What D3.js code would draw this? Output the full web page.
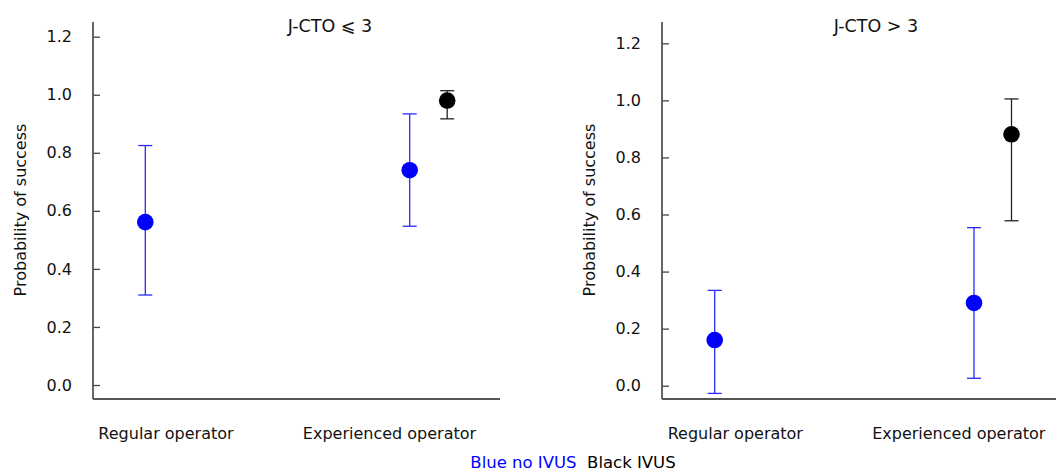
<!DOCTYPE html>
<html><head><meta charset="utf-8">
<script src="https://cdn.jsdelivr.net/npm/d3@7"></script>
<style>
body{margin:0;background:#fff;}
text{font-family:"DejaVu Sans",Verdana,sans-serif;fill:#111;}
</style></head>
<body><svg id="c" width="1056" height="473"></svg>
<script>
// ---- data ----
const categories = ["Regular operator", "Experienced operator"];
const panelTitles = ["J-CTO \u2A7D 3", "J-CTO > 3"];
const yTicks = [0.0, 0.2, 0.4, 0.6, 0.8, 1.0, 1.2];
const yLabel = "Probability of success";
// blue = no IVUS (both categories), per panel
const blueMean  = [[0.561, 0.740], [0.160, 0.290]];
const blueLow   = [[0.310, 0.547], [-0.027, 0.026]];
const blueHigh  = [[0.825, 0.934], [0.334, 0.554]];
// black = IVUS (experienced operator only), per panel
const blackMean = [0.980, 0.881];
const blackLow  = [0.917, 0.578];
const blackHigh = [1.014, 1.005];
const legendItems = ["Blue no IVUS", "Black IVUS"];
const legendColors = ["#0000ff", "#000000"];

// ---- layout ----
const svg = d3.select("#c");
const panels = [
  {axisX: 93,  xEnd: 500,  yRange: [385, 36.7], ptRange: [145.3, 409.7], lblRange: [166, 389.5], titleX: 330, yLabelX: 20},
  {axisX: 662, xEnd: 1056, yRange: [385.7, 43.3], ptRange: [714.7, 974], lblRange: [735.3, 958.8], titleX: 876, yLabelX: 589}
];
const axisY = 399, axisTop = 22, blackOffset = 37.5, capHalf = 7, radius = 8.3;
const fs = 16;

panels.forEach((p, i) => {
  const g = svg.append("g");
  const y = d3.scaleLinear().domain([0, 1.2]).range(p.yRange);
  const x = d3.scalePoint().domain(categories).range(p.ptRange);
  const xl = d3.scalePoint().domain(categories).range(p.lblRange);

  // y axis (inward ticks)
  const ax = g.append("g").attr("transform", `translate(${p.axisX},0)`)
    .call(d3.axisRight(y).tickValues(yTicks).tickSize(7).tickFormat(""));
  ax.select(".domain").remove();
  ax.selectAll(".tick line").attr("stroke", "#444").attr("stroke-width", 1.3);
  g.append("line").attr("x1", p.axisX).attr("x2", p.axisX).attr("y1", axisTop).attr("y2", axisY)
    .attr("stroke", "#555").attr("stroke-width", 1.8);
  g.append("line").attr("x1", p.axisX).attr("x2", p.xEnd).attr("y1", axisY).attr("y2", axisY)
    .attr("stroke", "#555").attr("stroke-width", 1.8);
  // tick labels
  g.selectAll(".tl").data(yTicks).join("text")
    .attr("x", p.axisX - 21).attr("y", d => y(d)).attr("dy", "0.35em")
    .attr("text-anchor", "end").attr("font-size", fs).text(d => d.toFixed(1));
  // y label
  g.append("text").attr("transform", `translate(${p.yLabelX},210) rotate(-90)`)
    .attr("text-anchor", "middle").attr("dy", "0.35em").attr("font-size", fs).text(yLabel);
  // title
  g.append("text").attr("x", p.titleX).attr("y", 26).attr("dy", "0.35em")
    .attr("text-anchor", "middle").attr("font-size", 17.5).text(panelTitles[i]);
  // category labels
  g.selectAll(".cl").data(categories).join("text")
    .attr("x", d => xl(d)).attr("y", 433).attr("dy", "0.35em")
    .attr("text-anchor", "middle").attr("font-size", fs).text(d => d);

  // points with error bars
  const blue = categories.map((c, j) => ({x: x(c), m: blueMean[i][j], lo: blueLow[i][j], hi: blueHigh[i][j], col: "#0000ff", lc: "#2a2aff"}));
  const black = [{x: x(categories[1]) + blackOffset, m: blackMean[i], lo: blackLow[i], hi: blackHigh[i], col: "#000", lc: "#222"}];
  [...blue, ...black].forEach(d => {
    g.append("line").attr("x1", d.x).attr("x2", d.x).attr("y1", y(d.lo)).attr("y2", y(d.hi))
      .attr("stroke", d.lc).attr("stroke-width", 1.3);
    [d.lo, d.hi].forEach(v => g.append("line").attr("x1", d.x - capHalf).attr("x2", d.x + capHalf)
      .attr("y1", y(v)).attr("y2", y(v)).attr("stroke", d.lc).attr("stroke-width", 1.3));
    g.append("circle").attr("cx", d.x).attr("cy", y(d.m)).attr("r", radius).attr("fill", d.col);
  });
});

// legend
const lg = svg.append("text").attr("x", 573).attr("y", 462.5).attr("dy", "0.35em")
  .attr("text-anchor", "middle").attr("font-size", 16.5);
legendItems.forEach((t, k) => lg.append("tspan").style("fill", legendColors[k]).text((k ? "\u00A0\u00A0" : "") + t));
</script></body></html>
